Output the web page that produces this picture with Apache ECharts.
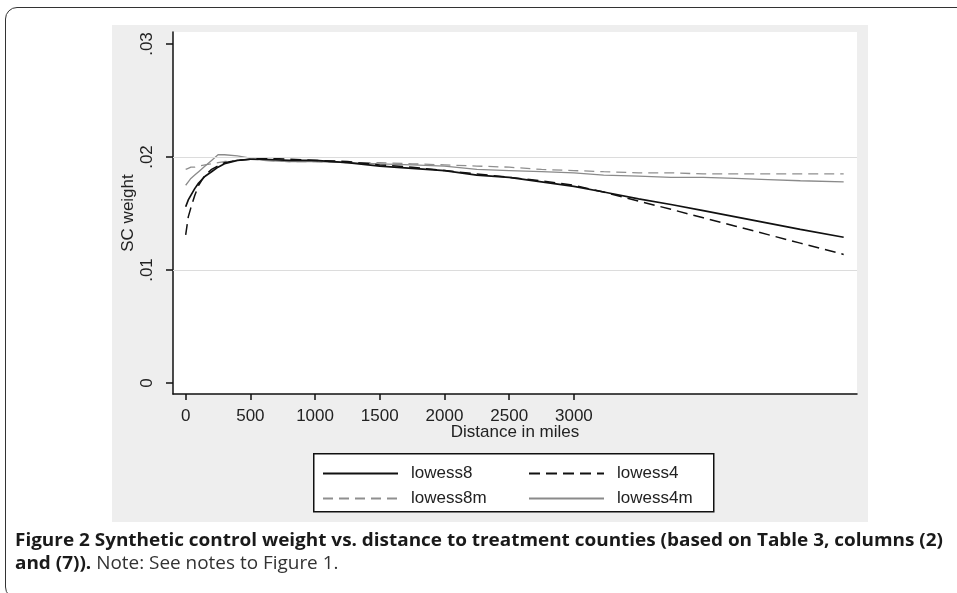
<!DOCTYPE html>
<html><head><meta charset="utf-8">
<script src="https://cdn.jsdelivr.net/npm/echarts@6/dist/echarts.min.js"></script>
<style>
html,body{margin:0;padding:0;background:#fff;width:957px;height:593px;overflow:hidden;}
#frame{position:absolute;left:5px;top:7px;width:1000px;height:592px;border:1.5px solid #333;border-radius:12px;box-sizing:border-box;}
#panel{position:absolute;left:112px;top:25px;width:756px;height:497px;background:#eeeeee;}
#chart{position:absolute;left:0;top:0;width:957px;height:593px;}
#cap{position:absolute;left:15px;top:528px;font-family:"Open Sans";font-size:18px;line-height:23px;color:#222;white-space:nowrap;transform-origin:0 0;}
#cap b{color:#1a1a1a;}
#cap .n{color:#333;font-weight:normal;}
</style></head>
<body>
<div id="frame"></div>
<div id="panel"></div>
<div id="chart"></div>
<div id="cap"><div id="l1"><b>Figure 2 Synthetic control weight vs. distance to treatment counties (based on Table 3, columns (2)</b></div><div id="l2"><b>and (7)).</b><span class="n"> Note: See notes to Figure 1.</span></div></div>
<script>
// Distance in miles (shared x values)
const distance = [0, 20, 40, 70, 100, 150, 200, 250, 300, 400, 500, 600, 800, 1000, 1250, 1500, 1750, 2000, 2250, 2500, 2750, 3000, 3230, 3500, 3750, 4000, 4250, 4500, 4750, 5085];
// SC weight series
const lowess8  = [0.0156, 0.0162, 0.0166, 0.0172, 0.0177, 0.0183, 0.0187, 0.0191, 0.0194, 0.0197, 0.0198, 0.0198, 0.0197, 0.0197, 0.0195, 0.0192, 0.0190, 0.0188, 0.0184, 0.0182, 0.0178, 0.0174, 0.0169, 0.0163, 0.0158, 0.01525, 0.0147, 0.01415, 0.0136, 0.0129];
const lowess4  = [0.0131, 0.0147, 0.0155, 0.0166, 0.0175, 0.0184, 0.0189, 0.0192, 0.0195, 0.0197, 0.0198, 0.0199, 0.0198, 0.0197, 0.0196, 0.0193, 0.0191, 0.0188, 0.0185, 0.0182, 0.0179, 0.0175, 0.0169, 0.0161, 0.01537, 0.01462, 0.01388, 0.01313, 0.01238, 0.01138];
const lowess8m = [0.0189, 0.0190, 0.0191, 0.0191, 0.0192, 0.0193, 0.0194, 0.0195, 0.0196, 0.0197, 0.0198, 0.0197, 0.0196, 0.0196, 0.0195, 0.0195, 0.0194, 0.0193, 0.0192, 0.0191, 0.0189, 0.0188, 0.0187, 0.0186, 0.0186, 0.0185, 0.0185, 0.0185, 0.0185, 0.0185];
const lowess4m = [0.0175, 0.0178, 0.0181, 0.0184, 0.0187, 0.0192, 0.0197, 0.0202, 0.0202, 0.0201, 0.0199, 0.0197, 0.0196, 0.0196, 0.0195, 0.0194, 0.0193, 0.0192, 0.0189, 0.0188, 0.0187, 0.0186, 0.0184, 0.0183, 0.0182, 0.0182, 0.0181, 0.0180, 0.0179, 0.0178];
// Axis ticks
const xTicks = [0, 500, 1000, 1500, 2000, 2500, 3000];
const yTicks = [0, 0.01, 0.02, 0.03];
const yGrid = [0.01, 0.02];
const legendCol1 = ['lowess8', 'lowess8m'];
const legendCol2 = ['lowess4', 'lowess4m'];

const pairs = arr => distance.map((d, i) => [d, arr[i]]);
const FONT = 'Liberation Sans';
const TXT = '#222';
const AX = '#111';

const chart = echarts.init(document.getElementById('chart'), null, {renderer: 'canvas'});
const legendBase = {
  orient: 'vertical', top: 465, itemWidth: 75, itemHeight: 14, itemGap: 8, padding: 0,
  selectedMode: false,
  itemStyle: {opacity: 0},
  textStyle: {fontSize: 17, color: TXT, fontFamily: FONT, padding: [0, 0, 0, 8]}
};
chart.setOption({
  animation: false,
  backgroundColor: 'transparent',
  grid: {left: 173, top: 32, width: 684, height: 362, show: true, backgroundColor: '#ffffff', borderWidth: 0},
  graphic: [{type: 'rect', left: 313, top: 453, shape: {width: 400, height: 58}, style: {fill: '#ffffff', stroke: AX, lineWidth: 1.5}}],
  legend: [
    Object.assign({left: 322, data: legendCol1}, legendBase),
    Object.assign({left: 528, data: legendCol2}, legendBase)
  ],
  xAxis: {
    type: 'value', min: -98, max: 5188,
    axisLine: {onZero: false, lineStyle: {color: AX, width: 1.5}},
    axisTick: {customValues: xTicks, length: 6, lineStyle: {color: AX, width: 1.5}},
    axisLabel: {customValues: xTicks, margin: 14, fontSize: 17, color: TXT, fontFamily: FONT,
      formatter: v => String(Math.round(v))},
    splitLine: {show: false},
    name: 'Distance in miles', nameLocation: 'middle', nameGap: 30, nameMoveOverlap: false,
    nameTextStyle: {fontSize: 17, color: TXT, fontFamily: FONT}
  },
  yAxis: {
    type: 'value', min: -0.000973, max: 0.031062,
    axisLine: {onZero: false, lineStyle: {color: AX, width: 1.5}},
    axisTick: {customValues: yTicks, length: 7, lineStyle: {color: AX, width: 1.5}},
    axisLabel: {customValues: yTicks, rotate: 90, margin: 17, fontSize: 17, color: TXT, fontFamily: FONT,
      formatter: v => v === 0 ? '0' : v.toFixed(2).replace(/^0/, '')},
    splitLine: {show: false},
    name: 'SC weight', nameLocation: 'middle', nameGap: 36, nameRotate: 90, nameMoveOverlap: false,
    nameTextStyle: {fontSize: 17, color: TXT, fontFamily: FONT}
  },
  series: [
    {type: 'line', name: 'grid', data: [], z: 1, silent: true,
     markLine: {silent: true, symbol: ['none', 'none'], label: {show: false},
       lineStyle: {color: '#dcdcdc', width: 1, type: 'solid'},
       data: yGrid.map(v => ({yAxis: v}))}},
    {type: 'line', name: 'lowess8m', data: pairs(lowess8m), symbol: 'none', z: 2,
     lineStyle: {color: '#8f8f8f', width: 1.3, type: [10, 6]}, itemStyle: {color: '#8f8f8f'}},
    {type: 'line', name: 'lowess4m', data: pairs(lowess4m), symbol: 'none', z: 2,
     lineStyle: {color: '#8a8a8a', width: 1.3, type: 'solid'}, itemStyle: {color: '#8a8a8a'}},
    {type: 'line', name: 'lowess4', data: pairs(lowess4), symbol: 'none', z: 3,
     lineStyle: {color: '#111111', width: 1.5, type: [11, 6]}, itemStyle: {color: '#111111'}},
    {type: 'line', name: 'lowess8', data: pairs(lowess8), symbol: 'none', z: 4,
     lineStyle: {color: '#111111', width: 1.7, type: 'solid'}, itemStyle: {color: '#111111'}}
  ]
});

function fitCaption() {
  const cap = document.getElementById('cap');
  cap.style.transform = 'none';
  const l1 = document.getElementById('l1');
  const range = document.createRange();
  range.selectNodeContents(l1);
  const w = range.getBoundingClientRect().width;
  if (w > 0) cap.style.transform = 'scaleX(' + (928 / w) + ')';
}
fitCaption();
if (document.fonts && document.fonts.ready) document.fonts.ready.then(fitCaption);
</script>
</body></html>
